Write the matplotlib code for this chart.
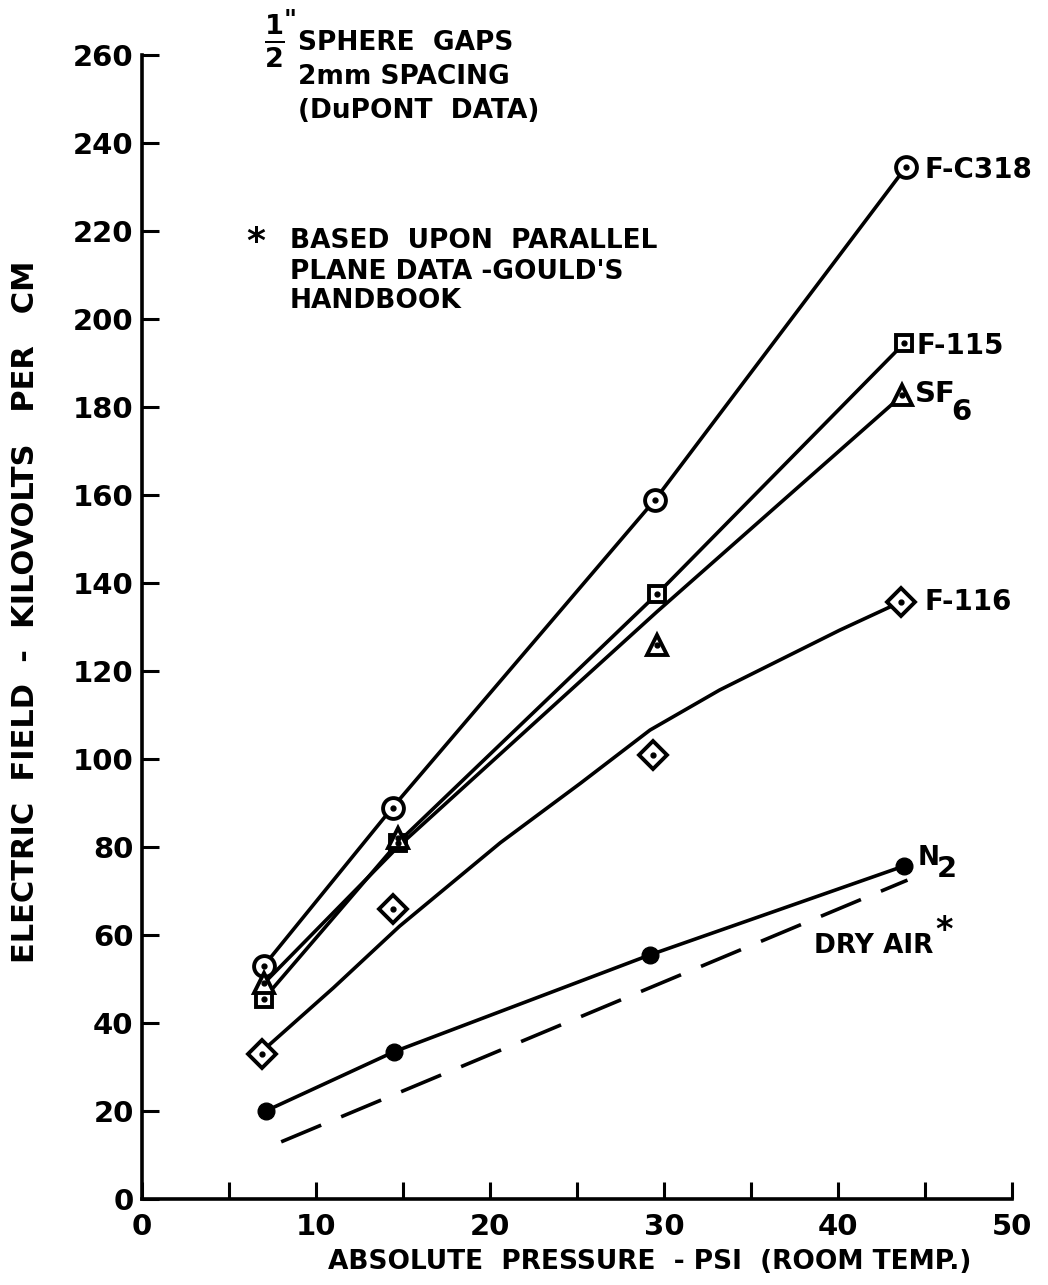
import matplotlib
matplotlib.use("Agg")
import matplotlib.pyplot as plt

plt.rcParams['font.family'] = ['DejaVu Sans']

# ---- data ----
fc318_x = [7.0, 14.4, 29.5, 43.9]
fc318_y = [53.0, 89.0, 159.0, 234.5]

f115_x = [7.0, 14.7, 29.6, 43.8]
f115_y = [45.5, 81.0, 137.5, 194.5]

sf6_x = [7.0, 14.7, 29.6, 43.7]
sf6_y = [49.0, 82.0, 126.0, 182.7]
sf6_curve_x = [7.0, 14.7, 29.6, 43.7]
sf6_curve_y = [49.0, 80.0, 133.5, 182.7]

f116_x = [6.9, 14.4, 29.4, 43.6]
f116_y = [33.0, 66.0, 101.0, 135.7]
f116_curve_x = [7.3, 11.0, 14.8, 20.6, 25.2, 29.2, 33.2, 40.1, 43.6]
f116_curve_y = [35.0, 48.0, 62.0, 81.0, 94.5, 106.6, 115.7, 129.3, 135.7]

n2_x = [7.1, 14.5, 29.2, 43.8]
n2_y = [20.0, 33.5, 55.5, 75.7]

dryair_x = [8.0, 44.0]
dryair_y = [13.0, 72.5]

xticks = [0, 10, 20, 30, 40, 50]
yticks = list(range(0, 261, 20))

# ---- figure ----
fig = plt.figure(figsize=(10.48, 12.85), dpi=100)
ax = fig.add_axes([0.1355, 0.0669, 0.83, 0.8901])
ax.set_xlim(0, 50)
ax.set_ylim(0, 260)

for s in ['top', 'right']:
    ax.spines[s].set_visible(False)
for s in ['left', 'bottom']:
    ax.spines[s].set_linewidth(2.6)
    ax.spines[s].set_color('black')

ax.set_xticks(xticks)
ax.set_xticks([5, 15, 25, 35, 45], minor=True)
ax.set_yticks(yticks)
ax.tick_params(axis='both', which='both', direction='in', length=12, width=2.2,
               labelsize=21, colors='black')
ax.tick_params(axis='x', which='major', pad=10)
ax.tick_params(axis='y', which='major', pad=6)
ax.set_xticklabels([str(v) for v in xticks], fontweight='bold')
ax.set_yticklabels([str(v) for v in yticks], fontweight='bold')

lw = 2.6
mew = 2.8

# curves
ax.plot(fc318_x, fc318_y, color='black', lw=lw)
ax.plot(f115_x, f115_y, color='black', lw=lw)
ax.plot(sf6_curve_x, sf6_curve_y, color='black', lw=lw)
ax.plot(f116_curve_x, f116_curve_y, color='black', lw=lw)
ax.plot(n2_x, n2_y, color='black', lw=lw)
ax.plot(dryair_x, dryair_y, color='black', lw=lw, dashes=(12, 6))

# markers
ax.plot(fc318_x, fc318_y, 'o', ms=15, mfc='white', mec='black', mew=mew)
ax.plot(f115_x, f115_y, 's', ms=11, mfc='white', mec='black', mew=mew)
ax.plot(sf6_x, sf6_y, '^', ms=14, mfc='white', mec='black', mew=mew)
ax.plot(f116_x, f116_y, 'D', ms=14, mfc='white', mec='black', mew=mew)
for xs, ys in [(fc318_x, fc318_y), (f115_x, f115_y), (sf6_x, sf6_y), (f116_x, f116_y)]:
    ax.plot(xs, ys, 'o', ms=3.5, color='black')
ax.plot(n2_x, n2_y, 'o', ms=12, color='black')

# series labels
fs = 20
bw = 'bold'
ax.text(45.0, 234.0, 'F-C318', fontsize=fs, va='center', ha='left', fontweight=bw)
ax.text(44.5, 194.0, 'F-115', fontsize=fs, va='center', ha='left', fontweight=bw)
ax.text(44.4, 183.0, 'SF', fontsize=fs + 1, va='center', ha='left', fontweight=bw)
ax.text(46.5, 179.0, '6', fontsize=fs + 1, va='center', ha='left', fontweight=bw)
ax.text(45.0, 135.7, 'F-116', fontsize=fs, va='center', ha='left', fontweight=bw)
ax.text(44.6, 77.5, 'N', fontsize=fs - 1, va='center', ha='left', fontweight=bw)
ax.text(45.7, 75.0, '2', fontsize=fs + 1, va='center', ha='left', fontweight=bw)
ax.text(38.6, 57.5, 'DRY AIR', fontsize=fs - 1, va='center', ha='left', fontweight=bw)
ax.text(45.6, 61.0, '*', fontsize=fs + 4, va='center', ha='left', fontweight=bw)

# annotations (figure coordinates in pixels)
def ftext(px, py, s, **kw):
    fig.text(px / 1048, 1 - py / 1285, s, **kw)

ftext(274, 41, r'$\mathbf{\frac{1}{2}}$', fontsize=28, ha='center', va='center')
ftext(284, 20, '"', fontsize=18, ha='left', va='center', fontweight=bw)
ftext(298, 43, 'SPHERE  GAPS', fontsize=19, ha='left', va='center', fontweight=bw)
ftext(298, 77, '2mm SPACING', fontsize=19, ha='left', va='center', fontweight=bw)
ftext(298, 111, '(DuPONT  DATA)', fontsize=19, ha='left', va='center', fontweight=bw)
ftext(256, 242, '*', fontsize=26, ha='center', va='center', fontweight=bw)
ftext(290, 241, 'BASED  UPON  PARALLEL', fontsize=19, ha='left', va='center', fontweight=bw)
ftext(290, 272, 'PLANE DATA -GOULD\'S', fontsize=19, ha='left', va='center', fontweight=bw)
ftext(290, 301, 'HANDBOOK', fontsize=19, ha='left', va='center', fontweight=bw)

ftext(26, 612, 'ELECTRIC  FIELD  -  KILOVOLTS   PER   CM', fontsize=22, ha='center',
      va='center', rotation=90, fontweight=bw)
ftext(650, 1262, 'ABSOLUTE  PRESSURE  - PSI  (ROOM TEMP.)', fontsize=19,
      ha='center', va='center', fontweight=bw)

fig.savefig('out.png', dpi=100)
